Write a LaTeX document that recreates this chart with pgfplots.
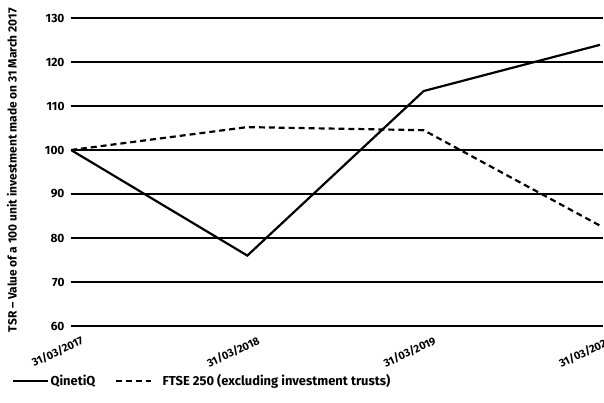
\documentclass[border=0pt]{standalone}
\usepackage{pgfplots}
\pgfplotsset{compat=1.18}
\usepackage{fontspec}
\setmainfont{Fira Sans}

\begin{document}
\begin{tikzpicture}[x=1bp,y=1bp]
\begin{axis}[
    name=ax,
    scale only axis,
    width=532bp, height=308bp,
    xmin=0, xmax=3.017,
    ymin=60, ymax=130,
    ytick={60,70,...,130},
    xtick={0,1,2,3},
    xticklabels={31/03/2017,31/03/2018,31/03/2019,31/03/2020},
    axis line style={draw=none},
    tick style={draw=none},
    ymajorgrids,
    grid style={black, line width=1.3pt},
    font=\bfseries,
    /pgf/number format/assume math mode=true,
    yticklabel style={font=\bfseries\fontsize{12}{14}\selectfont, xshift=-3pt},
    xticklabel style={font=\bfseries\fontsize{11}{13}\selectfont, rotate=25, anchor=north east, xshift=8pt, yshift=-9bp},
    ylabel={TSR -- Value of a 100 unit investment made on 31 March 2017},
    ylabel style={font=\bfseries\fontsize{12}{14}\selectfont, at={(axis description cs:-0.111,0.506)}, anchor=center},
    legend style={draw=none, at={(axis description cs:-0.118,-0.179)}, anchor=west,
        font=\bfseries\fontsize{13}{15}\selectfont, legend columns=2, fill=none,
        /tikz/every even column/.append style={column sep=18bp}},
    legend image code/.code={\draw[#1] (0bp,0bp) -- (35bp,0bp);},
]
\addplot[black, line width=2.2pt] coordinates {(0,100) (1,76) (2,113.4) (3,123.9)};
\addlegendentry{QinetiQ}
\addplot[black, line width=2.2pt, dash pattern=on 6pt off 4pt] coordinates {(0,100) (1,105.2) (2,104.5) (3,82.8)};
\addlegendentry{\hspace{8bp}FTSE 250 (excluding investment trusts)}
\end{axis}
\pgfresetboundingbox
\path[use as bounding box] ([xshift=-71bp,yshift=-77bp]ax.south west) rectangle ([xshift=533bp,yshift=18bp]ax.north west);
\end{tikzpicture}
\end{document}
